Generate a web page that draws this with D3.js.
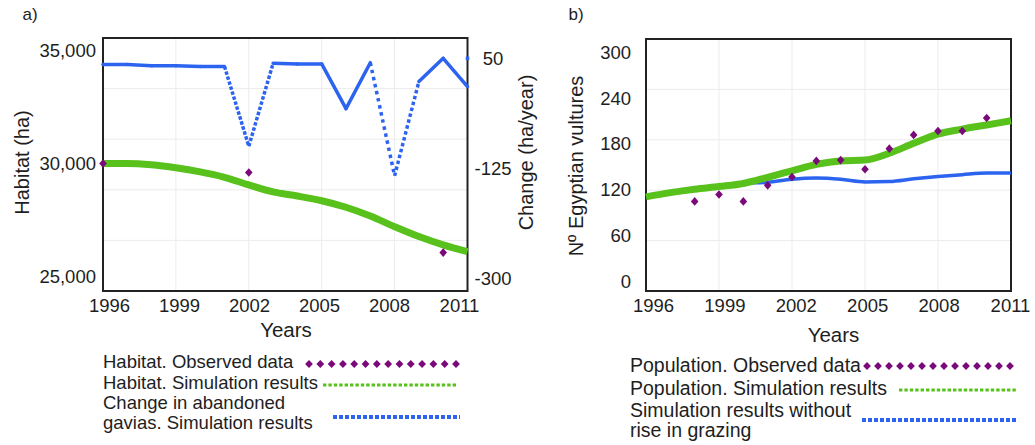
<!DOCTYPE html>
<html>
<head>
<meta charset="utf-8">
<script src="https://cdn.jsdelivr.net/npm/d3@7"></script>
<style>
  body { margin: 0; background: #fff; }
  svg text { font-family: "Liberation Sans", Arial, sans-serif; fill: #1e1e1e; }
</style>
</head>
<body>
<svg id="chart" width="1035" height="445"></svg>
<script>
// ---- data ----------------------------------------------------------------
const simYears = [1996, 1997, 1998, 1999, 2000, 2001, 2002, 2003, 2004, 2005, 2006, 2007, 2008, 2009, 2010, 2011];

// a) habitat (ha) and yearly change in abandoned gavias (ha/year)
const habitatSim = [30000, 30000, 29940, 29810, 29630, 29390, 29050, 28740, 28560, 28350, 28060, 27670, 27200, 26760, 26390, 26090];
const habitatObsYears = [1996, 2002, 2010];
const habitatObs = [30000, 29600, 26050];
const gaviasChange = [40, 40, 38, 38, 37, 37, -90, 42, 41, 41, -30, 43, -137, 13, 50, 5];
const gaviasExtraYears = [2011];
const gaviasExtra = [50];

// b) Egyptian vulture population
const populationObsYears = [1998, 1999, 2000, 2001, 2002, 2003, 2004, 2005, 2006, 2007, 2008, 2009, 2010];
const populationObs = [105, 114, 105, 126, 137, 158, 159, 147, 174, 192, 197, 197, 214];
const populationSim = [111, 116.5, 121, 124.5, 128.5, 136.5, 145, 153.5, 158, 159, 168, 181, 193, 199.5, 205, 210.5];
const populationNoGrazing = [111, 116.5, 121, 124.5, 128.5, 130, 134, 135.5, 134, 130.5, 131, 134.5, 137.5, 140, 142, 142];

// tick labels
const yearTicks = [1996, 1999, 2002, 2005, 2008, 2011];
const habitatTicks = [25000, 30000, 35000];
const changeTicks = [-300, -125, 50];
const populationTicks = [0, 60, 120, 180, 240, 300];

// legend entries
const legendA = [
  { lines: ["Habitat. Observed data"], kind: "obs" },
  { lines: ["Habitat. Simulation results"], kind: "sim" },
  { lines: ["Change in abandoned", "gavias. Simulation results"], kind: "alt" }
];
const legendB = [
  { lines: ["Population. Observed data"], kind: "obs" },
  { lines: ["Population. Simulation results"], kind: "sim" },
  { lines: ["Simulation results without", "rise in grazing"], kind: "alt" }
];

// ---- styling -------------------------------------------------------------
const GREEN = "#58c11c", BLUE = "#2d64ef", PURPLE = "#7a097a", FRAME = "#222";
const GRID = "#ececec";
const TICK_FONT = 18.5, TITLE_FONT = 20;

const svg = d3.select("#chart");

function diamondPath(hw, hh) {
  return `M0,${-hh}L${hw},0L0,${hh}L${-hw},0Z`;
}

// frame + light grid (4 interior lines each way)
function drawFrame(g, box, x, gridYears) {
  const h = box.bottom - box.top;
  g.append("g").selectAll("line").data(gridYears).join("line")
    .attr("x1", d => x(d)).attr("x2", d => x(d))
    .attr("y1", box.top).attr("y2", box.bottom)
    .attr("stroke", GRID).attr("stroke-width", 1);
  g.append("g").selectAll("line").data(d3.range(1, 5)).join("line")
    .attr("x1", box.left).attr("x2", box.right)
    .attr("y1", i => box.top + i * h / 5).attr("y2", i => box.top + i * h / 5)
    .attr("stroke", GRID).attr("stroke-width", 1);
  g.append("rect")
    .attr("x", box.left).attr("y", box.top)
    .attr("width", box.right - box.left).attr("height", h)
    .attr("fill", "none").attr("stroke", FRAME).attr("stroke-width", 2);
}

function styleAxis(sel, size) {
  sel.select(".domain").remove();
  sel.selectAll("text").attr("font-size", size).attr("fill", "#1e1e1e")
    .style("font-family", '"Liberation Sans", Arial, sans-serif');
}

// plain hyphen for negatives, as in the printed axis
const plain = d => String(d);

function drawLegend(g, entries, cfg) {
  entries.forEach((e, i) => {
    const base = cfg.baselines[i];
    const t = g.append("text").attr("x", cfg.x).attr("y", base).attr("font-size", cfg.font);
    e.lines.forEach((ln, j) => {
      t.append("tspan").attr("x", cfg.x).attr("dy", j === 0 ? 0 : cfg.lineGap).text(ln);
    });
    const s = cfg.symbols[e.kind];
    if (e.kind === "obs") {
      const n = 14;
      const xs = d3.scaleLinear().domain([0, n - 1]).range([s.x0, s.x1]);
      g.append("g").selectAll("path").data(d3.range(n)).join("path")
        .attr("d", diamondPath(3.9, 3.9))
        .attr("transform", k => `translate(${xs(k)},${s.y})`)
        .attr("fill", PURPLE);
    } else {
      g.append("line")
        .attr("x1", s.x0).attr("x2", s.x1).attr("y1", s.y).attr("y2", s.y)
        .attr("stroke", e.kind === "sim" ? GREEN : BLUE)
        .attr("stroke-width", e.kind === "sim" ? 3.2 : 4)
        .attr("stroke-dasharray", e.kind === "sim" ? "3.4,2" : "4,2");
    }
  });
}

// ======================= panel a =========================================
const boxA = { left: 103, right: 467.5, top: 38, bottom: 291 };
const xA = d3.scaleLinear().domain([1996, 2011]).range([boxA.left, boxA.right]);
const xLabA = d3.scaleLinear().domain([1996, 2011]).range([109, 459]);
const yA = d3.scaleLinear().domain([25000, 35000]).range([276.3, 50.7]);
const yA2 = d3.scaleLinear().domain([-300, 50]).range([278.3, 58.3]);

const gA = svg.append("g");
drawFrame(gA, boxA, xA, yearTicks.slice(1, -1));

gA.append("g").attr("transform", `translate(0,${boxA.bottom})`)
  .call(d3.axisBottom(xLabA).tickValues(yearTicks).tickFormat(plain).tickSize(0).tickPadding(8))
  .call(s => styleAxis(s, TICK_FONT));
gA.append("g").attr("transform", `translate(${boxA.left},0)`)
  .call(d3.axisLeft(yA).tickValues(habitatTicks).tickFormat(d3.format(",")).tickSize(0).tickPadding(7))
  .call(s => styleAxis(s, TICK_FONT));
gA.append("g").attr("transform", `translate(${boxA.right},0)`)
  .call(d3.axisRight(yA2).tickValues(changeTicks).tickFormat(plain).tickSize(0))
  .call(s => styleAxis(s, TICK_FONT))
  .call(s => s.selectAll("text").attr("x", 25.5).attr("text-anchor", "middle"));

// change in abandoned gavias: each yearly step is drawn as 16 sub-steps,
// so steep steps break up into separate dots while gentle ones stay solid
const SUBSTEPS = 16, DOT = 3.5;
const chgPts = simYears.map((yr, i) => [xA(yr), yA2(gaviasChange[i])]);
const segs = d3.pairs(chgPts).map(([p, q]) => {
  const step = Math.hypot(q[0] - p[0], q[1] - p[1]) / SUBSTEPS;
  return { p, q, gap: step - DOT };
});
gA.append("g").selectAll("line").data(segs).join("line")
  .attr("x1", d => d.p[0]).attr("y1", d => d.p[1])
  .attr("x2", d => d.q[0]).attr("y2", d => d.q[1])
  .attr("stroke", BLUE).attr("stroke-width", DOT)
  .attr("stroke-linecap", d => d.gap > 0.6 ? "butt" : "round")
  .attr("stroke-dasharray", d => d.gap > 0.6 ? `${DOT},${d.gap}` : null);
gA.append("g").selectAll("rect").data(gaviasExtraYears).join("rect")
  .attr("x", (d) => xA(d) - DOT / 2)
  .attr("y", (d, i) => yA2(gaviasExtra[i]) - DOT / 2)
  .attr("width", DOT).attr("height", DOT).attr("fill", BLUE);

// simulated habitat
gA.append("path")
  .datum(simYears.map((yr, i) => [yr, habitatSim[i]]))
  .attr("d", d3.line().x(d => xA(d[0])).y(d => yA(d[1])).curve(d3.curveMonotoneX))
  .attr("fill", "none").attr("stroke", GREEN).attr("stroke-width", 7);

// observed habitat
gA.append("g").selectAll("path").data(habitatObsYears).join("path")
  .attr("d", diamondPath(3.8, 4.3))
  .attr("transform", (d, i) => `translate(${xA(d)},${yA(habitatObs[i])})`)
  .attr("fill", PURPLE);

gA.append("text").attr("x", 22.5).attr("y", 19.5).attr("font-size", 17).text("a)");
gA.append("text").attr("transform", "translate(22,162.5) rotate(-90)")
  .attr("text-anchor", "middle").attr("dominant-baseline", "central")
  .attr("font-size", TITLE_FONT).text("Habitat (ha)");
gA.append("text").attr("transform", "translate(526,152.5) rotate(-90)")
  .attr("text-anchor", "middle").attr("dominant-baseline", "central")
  .attr("font-size", TITLE_FONT).text("Change (ha/year)");
gA.append("text").attr("x", 286).attr("y", 329)
  .attr("text-anchor", "middle").attr("dominant-baseline", "central")
  .attr("font-size", 20.5).text("Years");

drawLegend(gA, legendA, {
  x: 103, font: 18.5, lineGap: 20, baselines: [368.3, 389.3, 409.3],
  symbols: {
    obs: { x0: 309, x1: 456, y: 364 },
    sim: { x0: 323, x1: 457, y: 385 },
    alt: { x0: 333, x1: 460, y: 417 }
  }
});

// ======================= panel b =========================================
const boxB = { left: 646, right: 1011, top: 39, bottom: 291 };
const xB = d3.scaleLinear().domain([1996, 2011]).range([boxB.left, boxB.right]);
const xLabB = d3.scaleLinear().domain([1996, 2011]).range([653, 1010]);
const yB = d3.scaleLinear().domain([0, 300]).range([281.7, 52.3]);

const gB = svg.append("g");
drawFrame(gB, boxB, xB, yearTicks.slice(1, -1));

gB.append("g").attr("transform", `translate(0,${boxB.bottom})`)
  .call(d3.axisBottom(xLabB).tickValues(yearTicks).tickFormat(plain).tickSize(0).tickPadding(8))
  .call(s => styleAxis(s, TICK_FONT));
gB.append("g").attr("transform", `translate(${boxB.left},0)`)
  .call(d3.axisLeft(yB).tickValues(populationTicks).tickFormat(plain).tickSize(0).tickPadding(15))
  .call(s => styleAxis(s, TICK_FONT));

const lineB = d3.line().x(d => xB(d[0])).y(d => yB(d[1])).curve(d3.curveMonotoneX);
gB.append("path")
  .datum(simYears.map((yr, i) => [yr, populationNoGrazing[i]]))
  .attr("d", lineB).attr("fill", "none").attr("stroke", BLUE).attr("stroke-width", 3.5);
gB.append("path")
  .datum(simYears.map((yr, i) => [yr, populationSim[i]]))
  .attr("d", lineB).attr("fill", "none").attr("stroke", GREEN).attr("stroke-width", 7);
gB.append("g").selectAll("path").data(populationObsYears).join("path")
  .attr("d", diamondPath(3.8, 4.3))
  .attr("transform", (d, i) => `translate(${xB(d)},${yB(populationObs[i])})`)
  .attr("fill", PURPLE);

gB.append("text").attr("x", 568.5).attr("y", 19.5).attr("font-size", 17).text("b)");
gB.append("text").attr("transform", "translate(576,166) rotate(-90)")
  .attr("text-anchor", "middle").attr("dominant-baseline", "central")
  .attr("font-size", TITLE_FONT).text("Nº Egyptian vultures");
gB.append("text").attr("x", 833.5).attr("y", 334)
  .attr("text-anchor", "middle").attr("dominant-baseline", "central")
  .attr("font-size", 20.5).text("Years");

drawLegend(gB, legendB, {
  x: 630, font: 19.5, lineGap: 20.3, baselines: [372.3, 395, 417],
  symbols: {
    obs: { x0: 867, x1: 1010, y: 366 },
    sim: { x0: 899, x1: 1017, y: 390 },
    alt: { x0: 862, x1: 1018, y: 420 }
  }
});
</script>
</body>
</html>
